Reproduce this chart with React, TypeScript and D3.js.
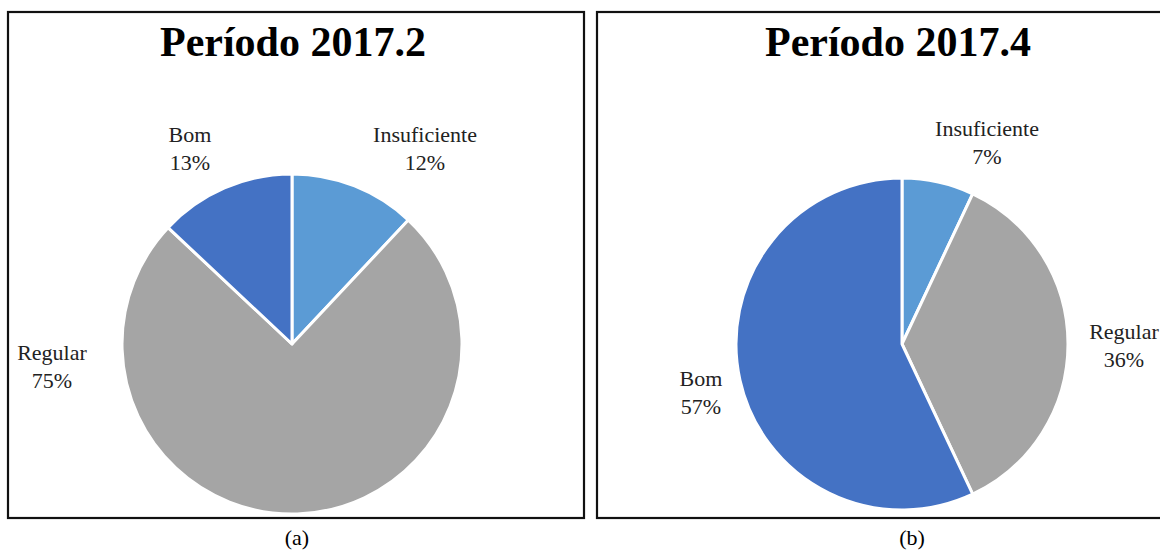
import React from "react";
import * as d3 from "d3";

const categories = ["Insuficiente", "Regular", "Bom"];
const values2017_2 = [12, 75, 13];
const values2017_4 = [7, 36, 57];
const titles = ["Período 2017.2", "Período 2017.4"];
const captions = ["(a)", "(b)"];
const colors = ["#5B9BD5", "#A5A5A5", "#4472C4"];

const FONT = "'Liberation Serif', 'Times New Roman', serif";

type PanelCfg = {
  x: number; y: number; w: number; h: number;
  cx: number; cy: number; r: number;
  values: number[]; title: string; caption: string; captionX: number;
  labelOffsets: [number, number][];
};

const panels: PanelCfg[] = [
  {
    x: 8, y: 12, w: 576, h: 506, cx: 292, cy: 344, r: 170,
    values: values2017_2, title: titles[0], caption: captions[0], captionX: 297,
    labelOffsets: [[133, -202], [-240, 16], [-102, -202]],
  },
  {
    x: 597, y: 12, w: 608, h: 506, cx: 902, cy: 344, r: 166,
    values: values2017_4, title: titles[1], caption: captions[1], captionX: 912,
    labelOffsets: [[85, -208], [222, -5], [-201, 42]],
  },
];

function Pie({ p }: { p: PanelCfg }) {
  const pie = d3.pie<number>().sort(null).value((d) => d);
  const arcs = pie(p.values);
  const arc = d3.arc<d3.PieArcDatum<number>>().innerRadius(0).outerRadius(p.r);
  return (
    <g>
      <rect x={p.x} y={p.y} width={p.w} height={p.h} fill="white" stroke="#111" strokeWidth={2.2} />
      <text x={p.x + p.w / 2 - 3} y={56} textAnchor="middle" fontFamily={FONT} fontWeight="bold" fontSize={42} fill="#000">
        {p.title}
      </text>
      <g transform={`translate(${p.cx},${p.cy})`}>
        {arcs.map((a, i) => (
          <path key={i} d={arc(a) || ""} fill={colors[i]} stroke="#fff" strokeWidth={3} strokeLinejoin="round" />
        ))}
      </g>
      {arcs.map((a, i) => {
        const [dx, dy] = p.labelOffsets[i];
        return (
          <text key={"l" + i} x={p.cx + dx} y={p.cy + dy} textAnchor="middle" fontFamily={FONT} fontSize={22} fill="#222">
            <tspan x={p.cx + dx}>{categories[i]}</tspan>
            <tspan x={p.cx + dx} dy={28}>{`${p.values[i]}%`}</tspan>
          </text>
        );
      })}
      <text x={p.captionX} y={545} textAnchor="middle" fontFamily={FONT} fontSize={22} fill="#000">
        {p.caption}
      </text>
    </g>
  );
}

export default function App() {
  return (
    <svg width={1160} height={551} viewBox="0 0 1160 551" style={{ position: "absolute", left: 0, top: 0, background: "#fff" }}>
      <rect x={0} y={0} width={1160} height={551} fill="#fff" />
      {panels.map((p, i) => (
        <Pie key={i} p={p} />
      ))}
    </svg>
  );
}
